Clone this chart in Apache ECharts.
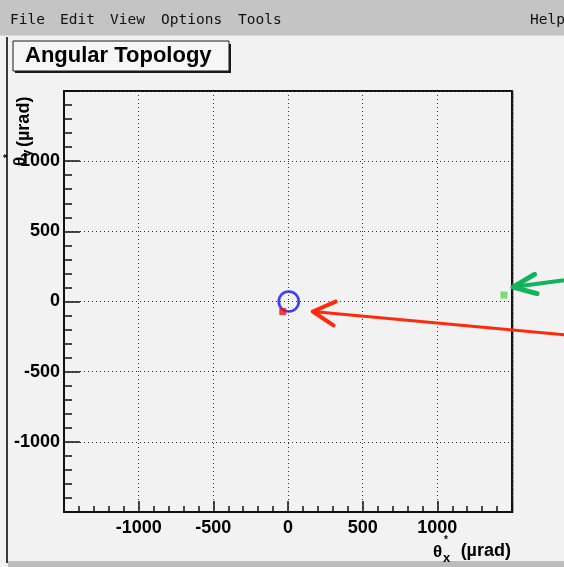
<!DOCTYPE html>
<html>
<head>
<meta charset="utf-8">
<script src="https://cdn.jsdelivr.net/npm/echarts@6/dist/echarts.min.js"></script>
<style>
  html, body { margin: 0; padding: 0; background: #f2f2f2; }
  #main { width: 564px; height: 567px; }
</style>
</head>
<body>
<div id="main"></div>
<script>
// Axis ranges (µrad) and tick spacing
const xRange = [-1500, 1500];
const yRange = [-1500, 1500];
const majorStep = 500;
const minorSplits = 5;

// Reconstructed angular positions θ*x, θ*y (µrad)
const beamCentre = [[5, 0]];      // open blue ring
const redHit = [[-35, -72]];      // red marker near the centre
const greenHit = [[1446, 46]];    // green marker at the right edge

// Window chrome text
const menuItems = ['File', 'Edit', 'View', 'Options', 'Tools'];
const menuX = [10, 60, 110, 161, 238];
const helpLabel = 'Help';
const titleText = 'Angular Topology';

const FONT = '"Liberation Sans", Arial, Helvetica, sans-serif';
const MONO = '"DejaVu Sans Mono", "Liberation Mono", monospace';

const chart = echarts.init(document.getElementById('main'), null, { renderer: 'canvas' });

const tickLabel = {
  color: '#000', fontFamily: FONT, fontWeight: 'bold', fontSize: 18,
  showMinLabel: false, showMaxLabel: false,
  formatter: function (v) { return String(v); }
};

const option = {
  backgroundColor: '#f2f2f2',
  animation: false,
  grid: {
    left: 64, top: 91, right: 52, bottom: 55,
    show: true, backgroundColor: 'transparent', borderColor: '#111', borderWidth: 2
  },
  xAxis: {
    type: 'value', min: xRange[0], max: xRange[1], interval: majorStep,
    axisLine: { show: true, onZero: false, lineStyle: { color: '#111', width: 2 } },
    axisTick: { show: true, inside: true, length: 11, lineStyle: { color: '#111', width: 1.5 } },
    minorTick: { show: true, splitNumber: minorSplits, length: 6, lineStyle: { color: '#111', width: 1.5 } },
    splitLine: { show: true, lineStyle: { color: '#333', width: 1, type: [1, 3] } },
    axisLabel: Object.assign({ margin: 7 }, tickLabel)
  },
  yAxis: {
    type: 'value', min: yRange[0], max: yRange[1], interval: majorStep,
    axisLine: { show: true, onZero: false, lineStyle: { color: '#111', width: 2 } },
    axisTick: { show: true, inside: true, length: 16, lineStyle: { color: '#111', width: 1.5 } },
    minorTick: { show: true, splitNumber: minorSplits, length: 8, lineStyle: { color: '#111', width: 1.5 } },
    splitLine: { show: true, lineStyle: { color: '#333', width: 1, type: [1, 3] } },
    axisLabel: Object.assign({ margin: 4 }, tickLabel)
  },
  series: [
    {
      type: 'scatter', data: beamCentre, symbol: 'circle', symbolSize: 20,
      itemStyle: { color: 'rgba(0,0,0,0)', borderColor: '#1010ff', borderWidth: 2.6 }, z: 3
    },
    {
      type: 'scatter', data: redHit, symbol: 'rect', symbolSize: 7,
      itemStyle: { color: '#f01010' }, z: 4
    },
    {
      type: 'scatter', data: greenHit, symbol: 'rect', symbolSize: 7,
      itemStyle: { color: '#55d855' }, z: 4
    }
  ]
};

chart.setOption(option);

// Arrow pointing at a data point; tip offset in pixels from the point, tail at the window edge
function arrow(tip, tail, color, width, barb, ang) {
  const dx = tail[0] - tip[0], dy = tail[1] - tip[1];
  const len = Math.hypot(dx, dy);
  const ux = dx / len, uy = dy / len;
  const b1 = [tip[0] + barb * (ux * Math.cos(ang) - uy * Math.sin(ang)),
              tip[1] + barb * (ux * Math.sin(ang) + uy * Math.cos(ang))];
  const b2 = [tip[0] + barb * (ux * Math.cos(-ang) - uy * Math.sin(-ang)),
              tip[1] + barb * (ux * Math.sin(-ang) + uy * Math.cos(-ang))];
  return [
    { type: 'polyline', z: 100, shape: { points: [tip, tail] },
      style: { stroke: color, lineWidth: width, lineCap: 'round', fill: null } },
    { type: 'polyline', z: 100, shape: { points: [b1, tip, b2] },
      style: { stroke: color, lineWidth: width + 1, lineCap: 'round', lineJoin: 'round', fill: null } }
  ];
}

const greenPx = chart.convertToPixel({ gridIndex: 0 }, greenHit[0]);
const centrePx = chart.convertToPixel({ gridIndex: 0 }, beamCentre[0]);

const graphics = [
  // menu bar
  { type: 'rect', z: 50, shape: { x: 0, y: 0, width: 564, height: 35 }, style: { fill: '#c4c4c4' } },
  { type: 'rect', z: 50, shape: { x: 0, y: 35, width: 564, height: 1 }, style: { fill: '#dcdcdc' } },
  // canvas frame
  { type: 'rect', z: 50, shape: { x: 6, y: 37, width: 2, height: 526 }, style: { fill: '#3a3a3a' } },
  { type: 'rect', z: 50, shape: { x: 8, y: 561, width: 556, height: 6 }, style: { fill: '#bcbcbc' } },
  { type: 'rect', z: 50, shape: { x: 513, y: 91, width: 1, height: 422 }, style: { fill: '#aaaaaa' } },
  // title box with shadow
  { type: 'rect', z: 50, shape: { x: 15, y: 44, width: 216, height: 29 }, style: { fill: '#1a1a1a' } },
  { type: 'rect', z: 51, shape: { x: 13, y: 41, width: 216, height: 30 },
    style: { fill: '#f6f6f6', stroke: '#1a1a1a', lineWidth: 1 } },
  { type: 'text', z: 52, x: 25, y: 56,
    style: { text: titleText, font: 'bold 22px ' + FONT, fill: '#000', verticalAlign: 'middle' } },
  // x axis title: θ*x (µrad)
  { type: 'text', z: 60, x: 433, y: 552,
    style: { text: 'θ', font: 'bold 17px ' + FONT, fill: '#000', verticalAlign: 'middle' } },
  { type: 'text', z: 60, x: 444, y: 540,
    style: { text: '*', font: 'bold 10px ' + FONT, fill: '#000', verticalAlign: 'middle' } },
  { type: 'text', z: 60, x: 443, y: 558,
    style: { text: 'x', font: 'bold 13px ' + FONT, fill: '#000', verticalAlign: 'middle' } },
  { type: 'text', z: 60, x: 511, y: 551,
    style: { text: '(µrad)', font: 'bold 18px ' + FONT, fill: '#000', align: 'right', verticalAlign: 'middle' } },
  // y axis title: θ*y (µrad), rotated
  {
    type: 'group', z: 60, x: 24, y: 166, rotation: Math.PI / 2,
    children: [
      { type: 'text', z: 60, x: 0, y: -4,
        style: { text: 'θ', font: 'bold 17px ' + FONT, fill: '#000', verticalAlign: 'middle' } },
      { type: 'text', z: 60, x: 8, y: -16,
        style: { text: '*', font: 'bold 10px ' + FONT, fill: '#000', verticalAlign: 'middle' } },
      { type: 'text', z: 60, x: 9, y: 3,
        style: { text: 'y', font: 'bold 13px ' + FONT, fill: '#000', verticalAlign: 'middle' } },
      { type: 'text', z: 60, x: 19, y: 0,
        style: { text: '(µrad)', font: 'bold 18px ' + FONT, fill: '#000', verticalAlign: 'middle' } }
    ]
  }
];

menuItems.forEach(function (m, i) {
  graphics.push({ type: 'text', z: 55, x: menuX[i], y: 20,
    style: { text: m, font: '14.5px ' + MONO, fill: '#111', verticalAlign: 'middle' } });
});
graphics.push({ type: 'text', z: 55, x: 530, y: 20,
  style: { text: helpLabel, font: '14.5px ' + MONO, fill: '#111', verticalAlign: 'middle' } });

// annotation arrows
arrow([greenPx[0] + 9, greenPx[1] - 8], [566, 280], '#12b35a', 4, 25, 0.4).forEach(function (g) { graphics.push(g); });
arrow([centrePx[0] + 24, centrePx[1] + 10], [566, 335], '#ff2a0a', 3, 25, 0.5).forEach(function (g) { graphics.push(g); });

chart.setOption({ graphic: graphics });
</script>
</body>
</html>
